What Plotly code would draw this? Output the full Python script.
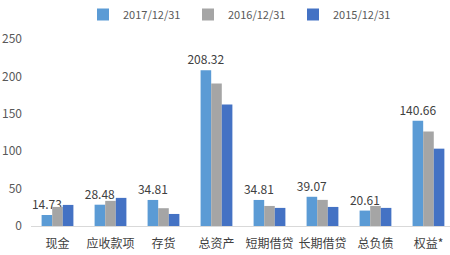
import plotly.graph_objects as go

categories = ["现金", "应收款项", "存货", "总资产", "短期借贷", "长期借贷", "总负债", "权益*"]
series_names = ["2017/12/31", "2016/12/31", "2015/12/31"]
values_2017 = [14.73, 28.48, 34.81, 208.32, 34.81, 39.07, 20.61, 140.66]
values_2016 = [25.5, 33.6, 23.8, 190.6, 26.8, 34.9, 26.8, 126.2]
values_2015 = [28.2, 37.6, 16.1, 162.4, 24.2, 25.5, 24.2, 103.4]
colors = ["#5B9BD5", "#A5A5A5", "#4472C4"]
y_ticks = [0, 50, 100, 150, 200, 250]

font_family = "Noto Sans CJK SC, Noto Sans, sans-serif"

fig = go.Figure()
for name, vals, col, lab in zip(series_names, [values_2017, values_2016, values_2015], colors, [True, False, False]):
    fig.add_trace(go.Bar(
        x=categories, y=vals, name=name, marker=dict(color=col, line=dict(width=0)),
        text=[f"{v:.2f}" for v in vals] if lab else None,
        textposition="outside" if lab else "none",
        constraintext="none",
        textfont=dict(size=12, color="#404040", family=font_family),
        cliponaxis=False,
    ))

fig.update_layout(
    width=450, height=255,
    margin=dict(l=31, r=0, t=39, b=29),
    paper_bgcolor="white", plot_bgcolor="white",
    barmode="group", bargap=0.4, bargroupgap=0,
    font=dict(family=font_family, size=12, color="#595959"),
    legend=dict(orientation="h", x=0.5, xanchor="center", y=1.0, yanchor="top",
                yref="container", font=dict(size=11, color="#595959"),
                itemwidth=30, entrywidth=60, entrywidthmode="pixels",
                traceorder="normal"),
    xaxis=dict(showgrid=False, showline=True, linecolor="#D9D9D9", linewidth=1,
               ticks="", range=[-0.5, 7.406], ticklabelstandoff=7,
               tickfont=dict(size=12, color="#404040")),
    yaxis=dict(range=[0, 250], tickvals=y_ticks, showgrid=False, zeroline=False,
               showline=False, ticks="", ticklabelstandoff=8,
               tickfont=dict(size=12, color="#595959")),
)
fig.write_html("out.html")
